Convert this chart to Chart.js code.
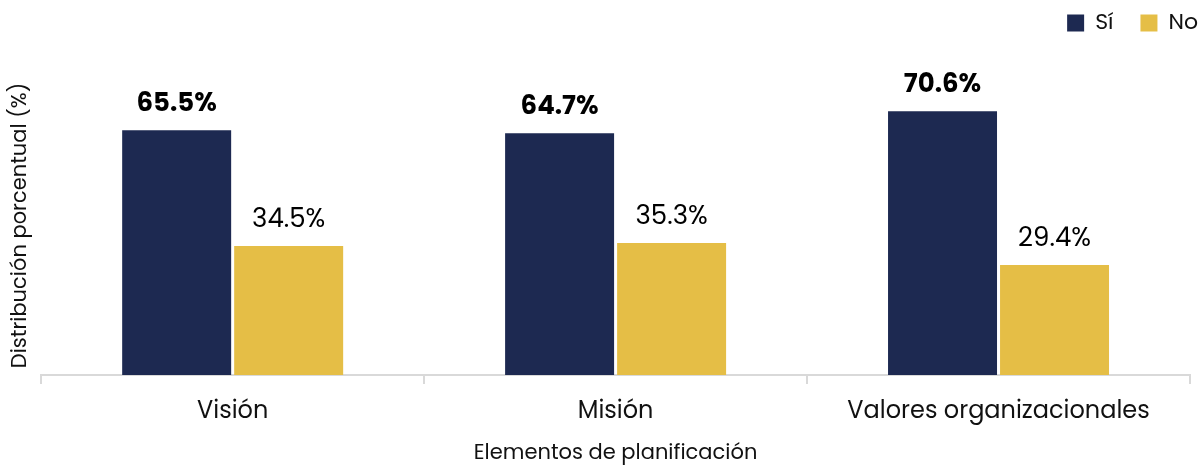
<!DOCTYPE html>
<html lang="es">
<head>
    <meta charset="UTF-8">
    <title>Elementos de planificación</title>
    <script src="https://cdn.jsdelivr.net/npm/chart.js"></script>
    <style>
        html, body { margin: 0; padding: 0; background: #fff; }
        #wrap { width: 1199px; height: 466px; }
    </style>
</head>
<body>
    <div id="wrap"><canvas id="chart"></canvas></div>

    <script>
        const categorias = ['Visión', 'Misión', 'Valores organizacionales'];
        const valoresSi = [65.5, 64.7, 70.6];
        const valoresNo = [34.5, 35.3, 29.4];

        const fuente = "'Poppins', 'Open Sans', sans-serif";
        Chart.defaults.font.family = fuente;
        Chart.defaults.color = '#111';

        // etiquetas encima de cada barra
        const etiquetas = {
            id: 'etiquetas',
            afterDatasetsDraw(chart) {
                const c = chart.ctx;
                chart.data.datasets.forEach((ds, i) => {
                    const meta = chart.getDatasetMeta(i);
                    meta.data.forEach((bar, j) => {
                        c.save();
                        c.font = (i === 0 ? 'bold ' : '') + '26px ' + fuente;
                        c.fillStyle = '#000';
                        c.textAlign = 'center';
                        c.textBaseline = 'bottom';
                        c.fillText(ds.data[j].toFixed(1) + '%', bar.x, bar.y - 13);
                        c.restore();
                    });
                });
            }
        };

        // espacio extra debajo de la leyenda
        const margenLeyenda = {
            id: 'margenLeyenda',
            beforeInit(chart) {
                const fitOrig = chart.legend.fit;
                chart.legend.fit = function () {
                    fitOrig.bind(chart.legend)();
                    this.height += 32;
                };
            }
        };

        new Chart(document.getElementById('chart'), {
            type: 'bar',
            data: {
                labels: categorias,
                datasets: [
                    { label: 'Sí', data: valoresSi, backgroundColor: '#1d2951' },
                    { label: 'No', data: valoresNo, backgroundColor: '#e5be46' }
                ]
            },
            options: {
                responsive: true,
                maintainAspectRatio: false,
                animation: false,
                layout: { padding: { top: -15, right: -26, left: 4, bottom: 0 } },
                datasets: {
                    bar: { categoryPercentage: 0.585, barPercentage: 0.973 }
                },
                plugins: {
                    legend: {
                        align: 'end',
                        labels: {
                            boxWidth: 17, boxHeight: 17,
                            font: { size: 22 },
                            color: '#111',
                            padding: 27
                        }
                    },
                    tooltip: { enabled: false }
                },
                scales: {
                    x: {
                        grid: { display: true, drawOnChartArea: false, tickLength: 9, color: '#d9d9d9', lineWidth: 2 },
                        border: { color: '#d9d9d9', width: 2 },
                        ticks: { font: { size: 24 }, color: '#111', padding: 14 },
                        title: { display: true, text: 'Elementos de planificación', font: { size: 21 }, color: '#111', padding: { top: 0, bottom: 0 } }
                    },
                    y: {
                        min: 0, max: 80,
                        grid: { display: false },
                        border: { display: false },
                        ticks: { display: false },
                        title: { display: true, text: 'Distribución porcentual (%)', font: { size: 21 }, color: '#111', padding: { top: 4, bottom: 0 } }
                    },
                    derecha: {
                        position: 'right',
                        display: true,
                        grid: { display: false },
                        border: { display: false },
                        ticks: { display: false },
                        afterFit(s) { s.width = 35; }
                    }
                }
            },
            plugins: [etiquetas, margenLeyenda]
        });
    </script>
</body>
</html>
